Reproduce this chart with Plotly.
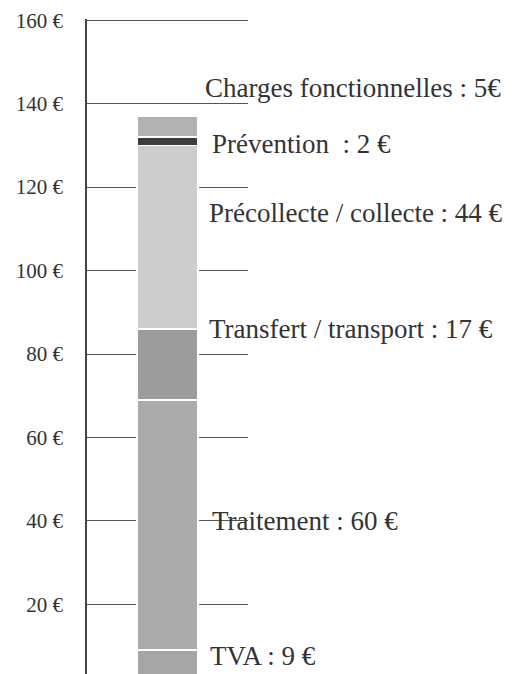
import plotly.graph_objects as go

categories = ["Coût"]
segment_names = ["TVA", "Traitement", "Transfert / transport", "Précollecte / collecte", "Prévention", "Charges fonctionnelles"]
segment_values = [9, 60, 17, 44, 2, 5]
segment_colors = ["#a6a6a6", "#ababab", "#9c9c9c", "#cdcdcd", "#3c3c3c", "#b2b2b2"]
label_texts = ["TVA : 9 €", "Traitement : 60 €", "Transfert / transport : 17 €",
               "Précollecte / collecte : 44 €", "Prévention  : 2 €", "Charges fonctionnelles : 5€"]
label_y = [7.6, 39.9, 86.1, 113.8, 130.3, 143.7]
label_x = [0.272, 0.277, 0.270, 0.270, 0.277, 0.261]
tick_vals = [20, 40, 60, 80, 100, 120, 140, 160]
tick_text = ["20 €", "40 €", "60 €", "80 €", "100 €", "120 €", "140 €", "160 €"]

fig = go.Figure()
for name, val, col in zip(segment_names, segment_values, segment_colors):
    fig.add_trace(go.Bar(x=[0], y=[val], name=name, width=0.38,
                         marker=dict(color=col, line=dict(color="white", width=1.5)),
                         hoverinfo="name+y"))

for txt, y, x in zip(label_texts, label_y, label_x):
    fig.add_annotation(text=txt, x=x, y=y, xref="paper", yref="y",
                       xanchor="left", yanchor="middle", showarrow=False,
                       font=dict(family="Liberation Serif", size=27, color="#333333"))

fig.update_layout(
    barmode="stack",
    width=531, height=674,
    margin=dict(l=87, r=0, t=19, b=0, autoexpand=False),
    paper_bgcolor="white", plot_bgcolor="white",
    showlegend=False,
    xaxis=dict(domain=[0, 0.3626], range=[-0.5, 0.5], showticklabels=False,
               showgrid=False, zeroline=False, showline=False, automargin=False),
    yaxis=dict(range=[3.3, 160.3], tickvals=tick_vals, ticktext=tick_text,
               showgrid=True, gridcolor="#555555", gridwidth=1,
               showline=True, linecolor="#444444", linewidth=1.5,
               zeroline=False, ticks="", ticklabelstandoff=18, automargin=False,
               tickfont=dict(family="Liberation Serif", size=21, color="#333333")),
)
fig.write_html("out.html", config={"displayModeBar": False},
               post_script="document.body.style.margin='0';document.body.style.overflow='hidden';")
